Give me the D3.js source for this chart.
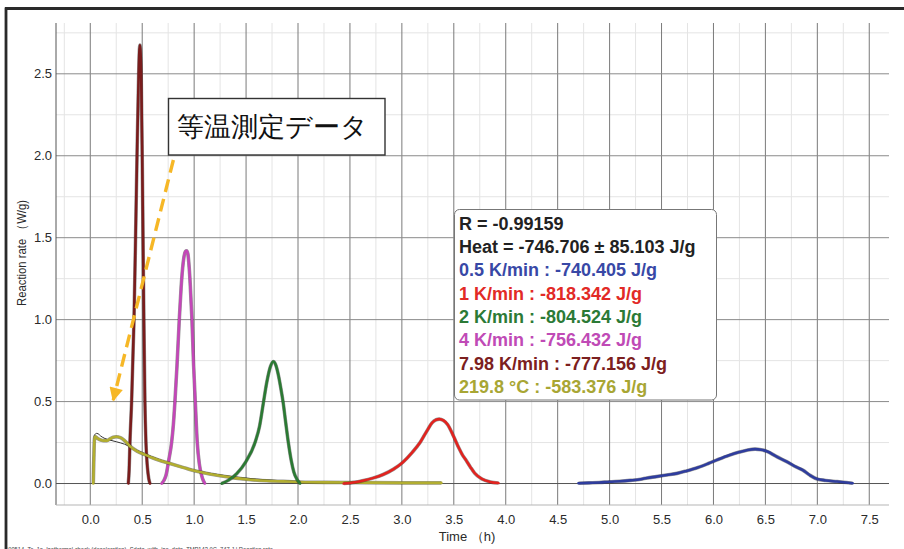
<!DOCTYPE html>
<html>
<head>
<meta charset="utf-8">
<script src="https://cdn.jsdelivr.net/npm/d3@7"></script>
<style>
  body { margin: 0; background: #fff; }
  svg { display: block; }
  text { font-family: "Liberation Sans", Arial, sans-serif; }
</style>
</head>
<body>
<svg id="chart" width="904" height="549"></svg>
<script>
// ---- tick labels ----
const xTickValues = [0, 0.5, 1, 1.5, 2, 2.5, 3, 3.5, 4, 4.5, 5, 5.5, 6, 6.5, 7, 7.5];
const xMinorValues = [-0.25, 0.25, 0.75, 1.25, 1.75, 2.25, 2.75, 3.25, 3.75, 4.25, 4.75, 5.25, 5.75, 6.25, 6.75, 7.25];
const yTickValues = [0, 0.5, 1, 1.5, 2, 2.5];
const yMinorValues = [0.25, 0.75, 1.25, 1.75, 2.25, 2.75];

// ---- series: [time (h), reaction rate (W/g)] ----
const rate05 = [[4.70,0.002],[4.80,0.004],[4.90,0.006],[5.00,0.011],[5.10,0.014],[5.20,0.019],[5.30,0.026],[5.36,0.034],[5.45,0.042],[5.55,0.052],[5.65,0.062],[5.74,0.077],[5.85,0.098],[5.95,0.122],[6.05,0.148],[6.15,0.172],[6.25,0.192],[6.33,0.205],[6.40,0.210],[6.46,0.206],[6.52,0.195],[6.60,0.167],[6.70,0.135],[6.80,0.100],[6.86,0.082],[6.93,0.050],[7.00,0.027],[7.08,0.019],[7.19,0.012],[7.28,0.006],[7.34,0.002]];
const rate1 = [[2.44,0.0],[2.55,0.008],[2.63,0.018],[2.72,0.033],[2.82,0.055],[2.92,0.088],[3.01,0.130],[3.10,0.190],[3.175,0.250],[3.24,0.320],[3.29,0.370],[3.33,0.389],[3.36,0.393],[3.40,0.385],[3.44,0.360],[3.50,0.285],[3.55,0.215],[3.58,0.178],[3.62,0.140],[3.66,0.100],[3.70,0.064],[3.77,0.028],[3.85,0.010],[3.93,0.003]];
const rate2 = [[1.265,0.0],[1.33,0.020],[1.41,0.060],[1.50,0.135],[1.586,0.250],[1.63,0.350],[1.666,0.490],[1.70,0.620],[1.735,0.715],[1.762,0.745],[1.785,0.725],[1.81,0.665],[1.835,0.580],[1.858,0.490],[1.88,0.380],[1.907,0.250],[1.935,0.140],[1.96,0.070],[1.99,0.025],[2.02,0.0]];
const rate4 = [[0.687,0.0],[0.71,0.020],[0.729,0.050],[0.755,0.140],[0.783,0.250],[0.80,0.360],[0.815,0.500],[0.835,0.720],[0.857,1.000],[0.875,1.200],[0.895,1.350],[0.915,1.415],[0.928,1.420],[0.94,1.400],[0.952,1.320],[0.962,1.220],[0.979,1.000],[0.995,0.720],[1.011,0.500],[1.03,0.250],[1.05,0.120],[1.072,0.050],[1.09,0.015],[1.104,0.0]];
const rate798 = [[0.366,0.0],[0.374,0.080],[0.382,0.250],[0.398,0.500],[0.421,1.000],[0.436,1.500],[0.45,2.000],[0.466,2.500],[0.472,2.630],[0.478,2.675],[0.484,2.630],[0.49,2.500],[0.50,2.000],[0.508,1.500],[0.516,1.000],[0.526,0.500],[0.536,0.250],[0.55,0.100],[0.563,0.030],[0.575,0.0]];
const rateIso = [[0.029,0.0],[0.034,0.150],[0.040,0.270],[0.046,0.286],[0.07,0.275],[0.10,0.266],[0.13,0.262],[0.16,0.262],[0.19,0.272],[0.22,0.282],[0.25,0.285],[0.29,0.280],[0.33,0.262],[0.382,0.228],[0.45,0.198],[0.543,0.172],[0.65,0.145],[0.767,0.122],[0.90,0.097],[1.024,0.075],[1.15,0.058],[1.25,0.047],[1.40,0.033],[1.50,0.026],[1.70,0.017],[1.90,0.012],[2.10,0.008],[2.50,0.006],[3.00,0.004],[3.38,0.004]];
// model curve for the isothermal run
const rateIsoFit = [[0.025,0.0],[0.032,0.200],[0.040,0.295],[0.06,0.306],[0.075,0.304],[0.10,0.290],[0.14,0.275],[0.19,0.265],[0.25,0.255],[0.33,0.240],[0.45,0.203],[0.60,0.162],[0.80,0.117],[1.00,0.082],[1.30,0.048],[1.60,0.027],[2.00,0.013],[2.40,0.008]];

// ---- legend ----
const seriesNames = ["0.5 K/min", "1 K/min", "2 K/min", "4 K/min", "7.98 K/min", "219.8 °C"];
const heatValues = ["-740.405", "-818.342", "-804.524", "-756.432", "-777.156", "-583.376"];
const seriesColors = ["#2f3d9e", "#e2231f", "#2b7a33", "#c446b8", "#7a1c1c", "#b2ae30"];
const legendTextColors = ["#3848a6", "#e22a26", "#2c7a36", "#c04ab6", "#7c2020", "#a8a634"];
const summaryLines = ["R = -0.99159", "Heat = -746.706 ± 85.103 J/g"];

const svg = d3.select("#chart");
svg.append("rect").attr("width", 904).attr("height", 549).attr("fill", "#fff");

// plot area
const plotLeft = 56, plotRight = 889, plotTop = 23, plotBottom = 505;
const x = d3.scaleLinear().domain([-0.33, 7.69]).range([plotLeft, plotRight]);
const y = d3.scaleLinear().domain([-0.131, 2.81]).range([plotBottom, plotTop]);

// grid
const grid = svg.append("g");
grid.selectAll(".vmin").data(xMinorValues).join("line")
  .attr("x1", d => x(d)).attr("x2", d => x(d)).attr("y1", plotTop).attr("y2", plotBottom)
  .attr("stroke", "#e4e4e4").attr("stroke-width", 1);
grid.selectAll(".hmin").data(yMinorValues).join("line")
  .attr("x1", plotLeft).attr("x2", plotRight).attr("y1", d => y(d)).attr("y2", d => y(d))
  .attr("stroke", "#e4e4e4").attr("stroke-width", 1);
grid.selectAll(".vmaj").data(xTickValues).join("line")
  .attr("x1", d => x(d)).attr("x2", d => x(d)).attr("y1", plotTop).attr("y2", plotBottom)
  .attr("stroke", "#7a7a7a").attr("stroke-width", 1);
grid.selectAll(".hmaj").data(yTickValues).join("line")
  .attr("x1", plotLeft).attr("x2", plotRight).attr("y1", d => y(d)).attr("y2", d => y(d))
  .attr("stroke", d => d === 0 ? "#555" : "#8a8a8a").attr("stroke-width", 1);
// plot borders
grid.append("line").attr("x1", plotLeft).attr("x2", plotLeft).attr("y1", plotTop).attr("y2", plotBottom)
  .attr("stroke", "#555").attr("stroke-width", 1);
grid.append("line").attr("x1", plotLeft).attr("x2", plotRight).attr("y1", plotBottom).attr("y2", plotBottom)
  .attr("stroke", "#b5b5b5").attr("stroke-width", 1);

// axes (labels only)
const fmt = d3.format(".1f");
const xAxis = svg.append("g").attr("transform", `translate(0,${plotBottom})`)
  .call(d3.axisBottom(x).tickValues(xTickValues).tickFormat(fmt).tickSize(0).tickPadding(9.5));
const yAxis = svg.append("g").attr("transform", `translate(${plotLeft},0)`)
  .call(d3.axisLeft(y).tickValues(yTickValues).tickFormat(fmt).tickSize(0).tickPadding(4));
[xAxis, yAxis].forEach(g => {
  g.select(".domain").remove();
  g.selectAll("text").attr("font-size", 13).attr("fill", "#2a2a2a")
    .attr("font-family", "'Liberation Sans', Arial, sans-serif");
});

// axis titles
svg.append("text").attr("x", 467).attr("y", 541).attr("text-anchor", "middle")
  .attr("font-size", 13).attr("fill", "#2a2a2a").text("Time （h)");
svg.append("text").attr("transform", "translate(26,253) rotate(-90)")
  .attr("text-anchor", "middle").attr("font-size", 12.5).attr("fill", "#2a2a2a")
  .attr("textLength", 106).attr("lengthAdjust", "spacingAndGlyphs")
  .text("Reaction rate （W/g)");

// curves
const line = d3.line().x(d => x(d[0])).y(d => y(d[1])).curve(d3.curveMonotoneX);
const curves = svg.append("g");
const drawOrder = [
  { data: rate798, color: seriesColors[4] },
  { data: rate4, color: seriesColors[3] },
  { data: rateIso, color: seriesColors[5], fit: rateIsoFit },
  { data: rate2, color: seriesColors[2] },
  { data: rate1, color: seriesColors[1] },
  { data: rate05, color: seriesColors[0] }
];
drawOrder.forEach(s => {
  curves.append("path").attr("d", line(s.data)).attr("fill", "none")
    .attr("stroke", "#1c1c1c").attr("stroke-opacity", 0.45).attr("stroke-width", 3.6)
    .attr("stroke-linejoin", "round");
  if (s.fit) {
    curves.append("path").attr("d", line(s.fit)).attr("fill", "none")
      .attr("stroke", "#333").attr("stroke-width", 1);
  }
  curves.append("path").attr("d", line(s.data)).attr("fill", "none")
    .attr("stroke", s.color).attr("stroke-width", 2.6)
    .attr("stroke-linejoin", "round").attr("stroke-linecap", "round");
});

// annotation box with dashed arrow pointing at the isothermal run
const defs = svg.append("defs");
defs.append("marker").attr("id", "head").attr("viewBox", "0 0 10 10")
  .attr("refX", 9).attr("refY", 5).attr("markerWidth", 4.2).attr("markerHeight", 4)
  .attr("orient", "auto").attr("markerUnits", "strokeWidth")
  .append("path").attr("d", "M0,0 L10,5 L0,10 Z").attr("fill", "#f6b726");
svg.append("line")
  .attr("x1", x(0.80)).attr("y1", y(1.974)).attr("x2", x(0.221)).attr("y2", y(0.509))
  .attr("stroke", "#f6b726").attr("stroke-width", 3.4).attr("stroke-dasharray", "13,7")
  .attr("marker-end", "url(#head)");
svg.append("rect").attr("x", 168.5).attr("y", 98.5).attr("width", 216.5).attr("height", 56.5)
  .attr("fill", "#fff").attr("stroke", "#333").attr("stroke-width", 1.4);
svg.append("text").attr("x", 176.5).attr("y", 126.5).attr("dominant-baseline", "central")
  .attr("font-family", "'Noto Sans CJK JP', sans-serif").attr("font-size", 27.4)
  .attr("fill", "#111").text("等温測定データ");

// legend box
const lg = svg.append("g");
lg.append("rect").attr("x", 454.5).attr("y", 209.5).attr("width", 262).attr("height", 190.5)
  .attr("rx", 5).attr("fill", "#fff").attr("stroke", "#777").attr("stroke-width", 1);
const legendLines = summaryLines.map(t => ({ text: t, color: "#222" }))
  .concat(seriesNames.map((n, i) => ({ text: `${n} : ${heatValues[i]} J/g`, color: legendTextColors[i] })));
lg.selectAll("text.leg").data(legendLines).join("text")
  .attr("x", 459).attr("y", (d, i) => 229.8 + i * 23.33)
  .attr("font-size", 18).attr("font-weight", "bold").attr("fill", d => d.color)
  .text(d => d.text);

// file caption under the plot
svg.append("text").attr("x", 5).attr("y", 551.5).attr("font-size", 8).attr("fill", "#444")
  .attr("textLength", 268).attr("lengthAdjust", "spacingAndGlyphs")
  .text("190514_To_1a_Isothermal check (deceleration)_Sdata_with_iso_data_TMP142.9C_747 J | Reaction rate");

// outer frame
svg.append("line").attr("x1", 6).attr("x2", 6).attr("y1", 7.5).attr("y2", 549)
  .attr("stroke", "#2a2a2a").attr("stroke-width", 2.8);
svg.append("line").attr("x1", 5).attr("x2", 904).attr("y1", 8.5).attr("y2", 8.5)
  .attr("stroke", "#2a2a2a").attr("stroke-width", 2.8);
</script>
</body>
</html>
